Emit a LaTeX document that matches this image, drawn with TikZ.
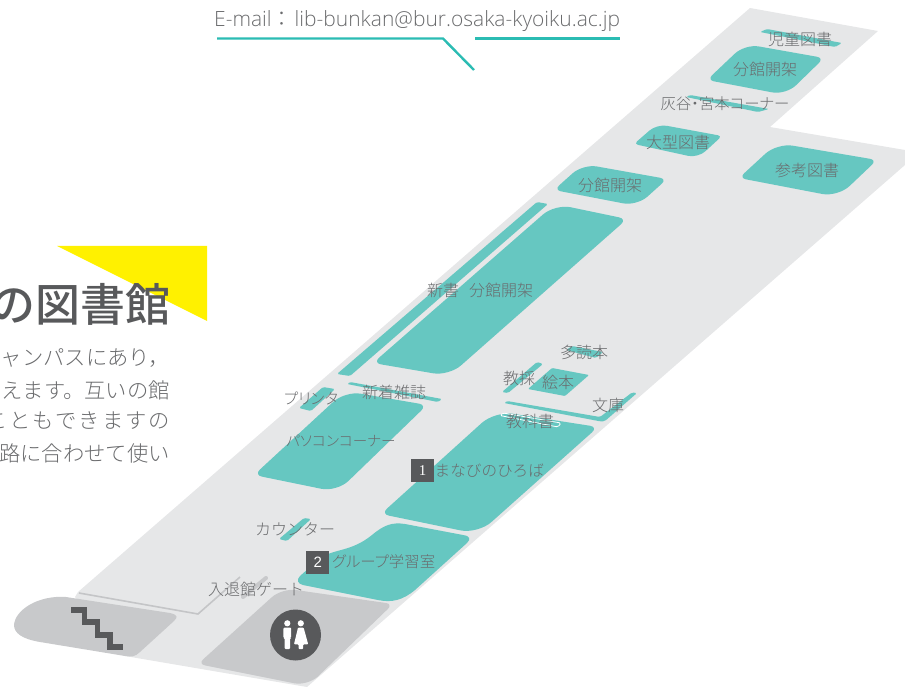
\documentclass[tikz,border=0pt]{standalone}
\usepackage{fontspec}
\setmainfont[UprightFont=* Light,BoldFont=*]{Noto Sans CJK JP}
\newfontfamily\paltfont[RawFeature=+palt,UprightFont=* Light]{Noto Sans CJK JP}
\newfontfamily\bodyfont[UprightFont=* Light]{Noto Sans CJK JP}
\newfontfamily\titlefont[UprightFont=* Medium]{Noto Sans CJK JP}
\newfontfamily\mailfont[UprightFont=* Light]{Open Sans}
\newfontfamily\numfont{Liberation Serif}
\newfontfamily\numsans{Liberation Sans}
\definecolor{floorgray}{HTML}{E6E7E8}
\definecolor{roomteal}{HTML}{66C7C1}
\definecolor{blockgray}{HTML}{C8C9CB}
\definecolor{darkgray}{HTML}{58595B}
\definecolor{linegray}{HTML}{C4C5C7}
\definecolor{lineteal}{HTML}{2BBCB3}
\definecolor{signyellow}{HTML}{FFF100}
\definecolor{labelgray}{HTML}{6A6B6D}
\newcommand{\parashape}[7][roomteal]{\fill[#1,rounded corners=#6pt] (#2) [rounded corners=#7pt] -- (#3) [rounded corners=#6pt] -- (#4) [rounded corners=#7pt] -- (#5) [rounded corners=#6pt] -- cycle;}
\newcommand{\tr}{\kern1.9pt}
\tikzset{
  strip/.style={fill=roomteal,rounded corners=1.5pt},
  lbl/.style={text=labelgray,font=\fontsize{16}{16}\selectfont,inner sep=0pt},
  plbl/.style={text=labelgray,font=\fontsize{15.4}{16}\selectfont\paltfont,inner sep=0pt},
  bodyline/.style={text=labelgray,anchor=east,inner sep=0pt,font=\fontsize{21.3}{21.3}\selectfont\bodyfont},
  badge/.style={fill=darkgray,text=white,minimum size=23pt,inner sep=0pt,anchor=north west,font=\fontsize{15}{15}\selectfont},
  callout/.style={draw=lineteal,line width=2.4pt},
  gate/.style={draw=linegray,line width=1.6pt}
}
\begin{document}
\begin{tikzpicture}[x=1pt,y=-1pt]
\useasboundingbox (0,0) rectangle (905,687);
% sign
\fill[signyellow] (57,246) -- (207,246) -- (207,321) -- cycle;
% floor
\fill[floorgray] (750,8) -- (878,31) -- (770,127) -- (905,150) -- (905,165) -- (307,687) -- (125,656) -- (75,597) -- (78,592) -- cycle;
% gate lines
\draw[gate] (79,593) -- (198,614) -- (240,577);
\draw[draw=blockgray,line width=4pt,line cap=round] (243,597) -- (266,578);
% stairs block
\fill[blockgray] (66,597) -- (170,613) .. controls (178,615) and (178,617) .. (174,621) -- (140,652) .. controls (135,657) and (131,657) .. (125,656) -- (40,642) .. controls (22,639) and (14,633) .. (14,625) .. controls (15,610) and (38,595) .. (66,597) -- cycle;
\draw[darkgray,line width=5.6pt,line join=miter] (71,610) -- (84.5,610) -- (84.5,622) -- (97.5,622) -- (97.5,635) -- (110,635) -- (110,647) -- (123,647);
% rest room
\parashape[blockgray]{198,664}{282,588}{393,604}{308,686}{7}{14}
\node[circle,fill=darkgray,minimum size=51pt,inner sep=0pt] (wc) at (295.5,635) {};
\fill[white] (287.3,623.3) circle (3.1);
\fill[white,rounded corners=1pt] (283.4,627.6) -- (291.2,627.6) -- (291.2,638) -- (290.2,638) -- (290.2,649) -- (284.6,649) -- (284.6,638) -- (283.4,638) -- cycle;
\fill[white] (300.8,623.3) circle (3.1);
\fill[white,rounded corners=.8pt] (298,627.6) -- (303.6,627.6) -- (308.2,644.3) -- (303.2,644.3) -- (303.2,649) -- (298.6,649) -- (298.6,644.3) -- (294,644.3) -- cycle;
% rooms
\parashape{381,514}{495,411}{598,427}{478,534}{8}{18}
\parashape{254,475}{345,391}{427,405}{337,492}{8}{16}
\fill[roomteal] (303,585) .. controls (298,584) and (296,580) .. (300,576) -- (318,560) .. controls (332,548) and (350,553) .. (372,535) .. controls (384,525) and (392,522) .. (405,524) -- (463,535) .. controls (470,536) and (471,539) .. (467,543) -- (415,590) .. controls (403,600) and (392,603) .. (378,600) -- cycle;
\parashape{373,363}{555,204}{627,219}{449,376}{8}{16}
\fill[strip] (337,374) -- (537,202) -- (548,204) -- (350,376) -- cycle;
\parashape{554,190}{583,164}{667,179}{637,206}{7}{14}
\parashape{707,80}{745,44}{824,58}{786,95}{7}{14}
\parashape{634,144}{657,124}{722,136}{698,158}{4}{10}
\parashape{739,178}{777,143}{877,160}{838,197}{7}{16}
\fill[strip] (760,32) -- (767,29) -- (842,43) -- (835,47) -- cycle;
\fill[strip] (686,97) -- (690,95) -- (769,109) -- (758,112) -- cycle;
\fill[strip] (299,408) -- (323,387) -- (335,389) -- (311,411) -- cycle;
\fill[strip] (347,384) -- (350,382) -- (442,399) -- (438,402) -- cycle;
\fill[strip] (502,392) -- (537,362) -- (543,364) -- (508,393) -- cycle;
\fill[fill=roomteal,rounded corners=1pt] (528,389) -- (552,368) -- (589,375) -- (565,396) -- cycle;
\fill[strip] (504,403) -- (507,401) -- (600,417) -- (632,392.5) -- (637,393) -- (605,421) -- (601,421.5) -- cycle;
\fill[strip] (566,350) -- (572,346) -- (603,352) -- (596,358) -- cycle;
\fill[strip] (279,539) -- (304,518) -- (311,519) -- (287,541) -- cycle;
\draw[white,line width=.8pt,rounded corners=1.5pt] (500,415.5) -- (503,413) -- (561,423) -- (558,427) -- cycle;
% e-mail
\node[anchor=base west,inner sep=0pt,text=labelgray,font=\fontsize{21}{21}\selectfont\mailfont] (mail) at (214,27) {E-mail{\bodyfont：}\kern2pt lib-bunkan@bur.osaka-kyoiku.ac.jp};
\coordinate (ca) at (217,38.5); \coordinate (cb) at (443,38.5); \coordinate (cc) at (474,70);
\coordinate (cd) at (475,38.5); \coordinate (ce) at (620,38.5);
\draw[callout] (ca) -- (cb) -- (cc);
\draw[callout] (cd) -- (ce);
% title and body
\node[anchor=base east,inner sep=0pt,text=darkgray,font=\fontsize{45}{45}\selectfont\titlefont] (title) at (170.5,321) {の図書館};
\node[bodyline] (b1) at (170,358) {ャンパスにあり，};
\node[bodyline] (b2) at (170,390) {えます。互いの館};
\node[bodyline] (b3) at (170,421) {こ\tr と\tr も\tr で\tr き\tr ま\tr す\tr の};
\node[bodyline] (b4) at (170,453.5) {路に合わせて使い};
% labels
\node[lbl] (l1) at (800,39) {児童図書};
\node[lbl] (l2) at (765,69) {分館開架};
\node[plbl] (l3) at (725,104) {灰谷・宮本コーナー};
\node[lbl] (l4) at (678,142) {大型図書};
\node[lbl] (l5) at (807,170) {参考図書};
\node[lbl] (l6) at (610,185) {分館開架};
\node[lbl] (l7) at (443,290) {新書};
\node[lbl] (l8) at (501,290) {分館開架};
\node[lbl] (l9) at (584,352) {多読本};
\node[lbl] (l10) at (519,378) {教採};
\node[lbl] (l11) at (558,382) {絵本};
\node[lbl] (l12) at (608,405) {文庫};
\node[lbl] (l13) at (394,392) {新着雑誌};
\node[plbl] (l14) at (311,398) {プリンタ};
\node[lbl] (l15) at (530,421) {教科書};
\node[plbl,font=\fontsize{14.6}{16}\selectfont\paltfont] (l16) at (341,441) {パソコンコーナー};
\node[badge,font=\fontsize{15}{15}\selectfont\numfont] (n1) at (411,459) {1};
\node[lbl,anchor=west,font=\fontsize{15.6}{16}\selectfont] (l17) at (434.5,471) {まなびのひろば};
\node[lbl] (l18) at (295,529) {カウンター};
\node[badge,font=\fontsize{15}{15}\selectfont\numsans] (n2) at (306,551) {2};
\node[plbl,anchor=west] (l19) at (332,562) {グループ学習室};
\node[lbl] (l20) at (256,589) {入退館ゲート};
\end{tikzpicture}
\end{document}
